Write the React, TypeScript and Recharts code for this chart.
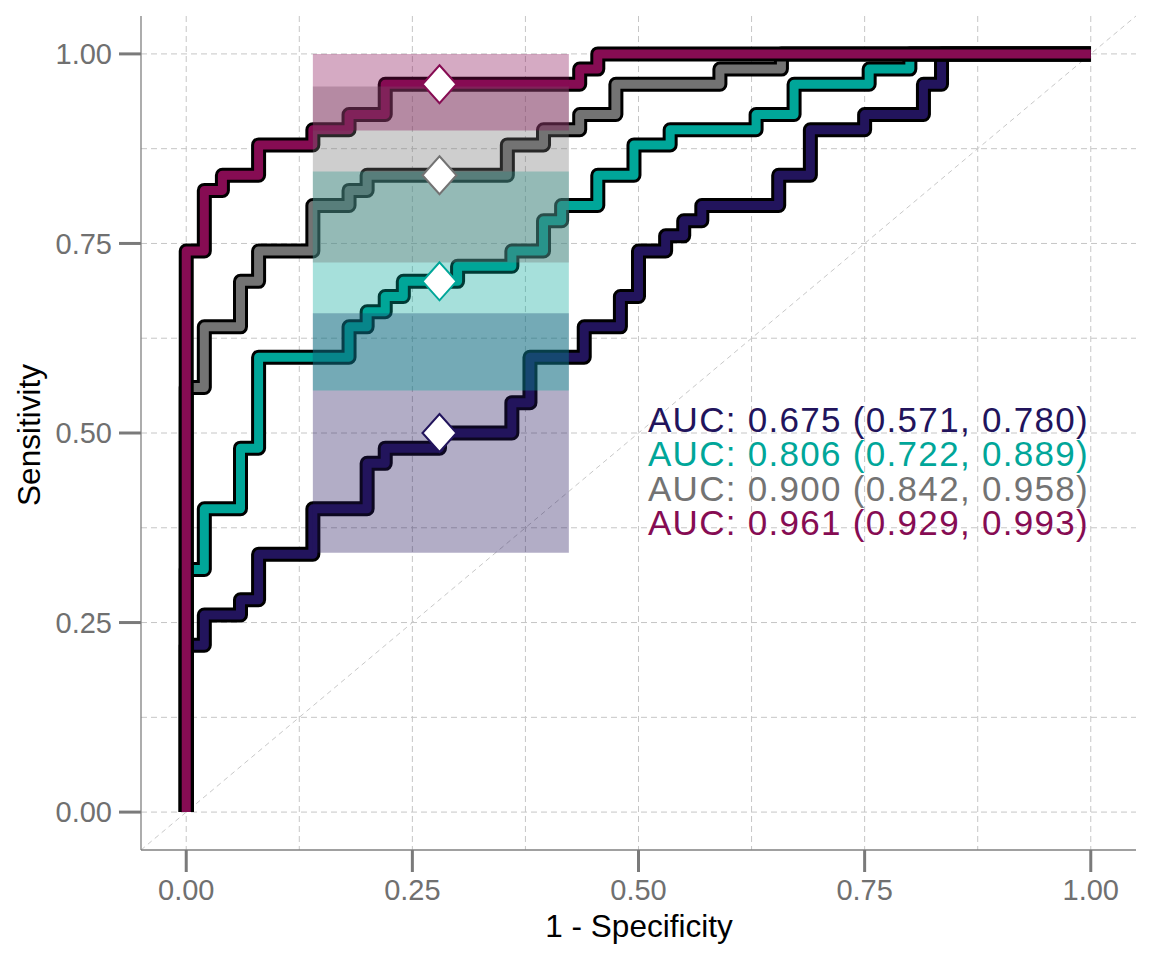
import { ComposedChart, Line, Scatter, XAxis, YAxis, CartesianGrid, ReferenceLine, ReferenceArea } from "recharts";

// ROC step points as [1 - specificity, sensitivity]
const rocNavy: [number, number][] = [
  [0, 0], [0, 0.22], [0.02, 0.22], [0.02, 0.26], [0.06, 0.26], [0.06, 0.28], [0.08, 0.28], [0.08, 0.34],
  [0.14, 0.34], [0.14, 0.4], [0.2, 0.4], [0.2, 0.46], [0.22, 0.46], [0.22, 0.48], [0.28, 0.48], [0.28, 0.5],
  [0.36, 0.5], [0.36, 0.54], [0.38, 0.54], [0.38, 0.6], [0.44, 0.6], [0.44, 0.64], [0.48, 0.64], [0.48, 0.68],
  [0.5, 0.68], [0.5, 0.74], [0.53, 0.74], [0.53, 0.76], [0.55, 0.76], [0.55, 0.78], [0.57, 0.78], [0.57, 0.8],
  [0.655, 0.8], [0.655, 0.84], [0.69, 0.84], [0.69, 0.9], [0.75, 0.9], [0.75, 0.92], [0.815, 0.92],
  [0.815, 0.96], [0.835, 0.96], [0.835, 1], [1, 1],
];
const rocTeal: [number, number][] = [
  [0, 0], [0, 0.32], [0.02, 0.32], [0.02, 0.4], [0.06, 0.4], [0.06, 0.48], [0.08, 0.48], [0.08, 0.6],
  [0.18, 0.6], [0.18, 0.64], [0.2, 0.64], [0.2, 0.66], [0.22, 0.66], [0.22, 0.68], [0.24, 0.68], [0.24, 0.7],
  [0.3, 0.7], [0.3, 0.72], [0.36, 0.72], [0.36, 0.74], [0.395, 0.74], [0.395, 0.78], [0.415, 0.78],
  [0.415, 0.8], [0.455, 0.8], [0.455, 0.84], [0.495, 0.84], [0.495, 0.88], [0.535, 0.88], [0.535, 0.9],
  [0.63, 0.9], [0.63, 0.92], [0.672, 0.92], [0.672, 0.96], [0.755, 0.96], [0.755, 0.98], [0.8, 0.98],
  [0.8, 1], [1, 1],
];
const rocGray: [number, number][] = [
  [0, 0], [0, 0.56], [0.02, 0.56], [0.02, 0.64], [0.06, 0.64], [0.06, 0.7], [0.08, 0.7], [0.08, 0.74],
  [0.14, 0.74], [0.14, 0.8], [0.18, 0.8], [0.18, 0.82], [0.2, 0.82], [0.2, 0.84], [0.355, 0.84], [0.355, 0.88],
  [0.395, 0.88], [0.395, 0.9], [0.435, 0.9], [0.435, 0.92], [0.475, 0.92], [0.475, 0.96], [0.59, 0.96],
  [0.59, 0.98], [0.658, 0.98], [0.658, 1], [1, 1],
];
const rocMaroon: [number, number][] = [
  [0, 0], [0, 0.74], [0.02, 0.74], [0.02, 0.82], [0.04, 0.82], [0.04, 0.84], [0.08, 0.84], [0.08, 0.88],
  [0.14, 0.88], [0.14, 0.9], [0.18, 0.9], [0.18, 0.92], [0.22, 0.92], [0.22, 0.96], [0.435, 0.96],
  [0.435, 0.98], [0.455, 0.98], [0.455, 1], [1, 1],
];

// threshold point and sensitivity CI boxes
const pointFpr = 0.28;
const pointSens = [0.5, 0.7, 0.84, 0.96];
const ciFpr = [0.14, 0.423];
const ciLow = [0.342, 0.556, 0.725, 0.899];
const ciHigh = [0.658, 0.845, 0.957, 1.0];

const aucLabels = [
  "AUC: 0.675 (0.571, 0.780)",
  "AUC: 0.806 (0.722, 0.889)",
  "AUC: 0.900 (0.842, 0.958)",
  "AUC: 0.961 (0.929, 0.993)",
];

const axisTicks = [0, 0.25, 0.5, 0.75, 1];
const gridVals = [0, 0.125, 0.25, 0.375, 0.5, 0.625, 0.75, 0.875, 1];

const curves = [rocNavy, rocTeal, rocGray, rocMaroon];
const colors = ["#22145c", "#00a699", "#737373", "#860c53"];
const labelY = [432, 466, 500.5, 535];

const FONT = "'Liberation Sans', Arial, Helvetica, sans-serif";

const toRows = (pts: [number, number][]) => pts.map(([x, y]) => ({ x, y }));

const diamond = (color: string) => (p: any) => (
  <polygon
    points={`${p.cx},${p.cy - 19} ${p.cx + 17},${p.cy} ${p.cx},${p.cy + 19} ${p.cx - 17},${p.cy}`}
    fill="#fff"
    stroke={color}
    strokeWidth={2}
  />
);

export default function App() {
  const tickStyle = { fill: "#707070", fontSize: 29, fontFamily: FONT };
  return (
    <div style={{ position: "absolute", left: 0, top: 0, width: 1152, height: 960, background: "#fff" }}>
      <ComposedChart width={1152} height={960} margin={{ top: 16, right: 16, bottom: 0, left: 0 }}>
        <CartesianGrid stroke="#c6c6c6" strokeDasharray="6 4" verticalValues={gridVals} horizontalValues={gridVals} />
        <XAxis
          dataKey="x" type="number" domain={[-0.05, 1.05]} ticks={axisTicks} interval={0} allowDataOverflow
          tickFormatter={(v) => Number(v).toFixed(2)} height={110} tickSize={22} tickMargin={7}
          tick={tickStyle} tickLine={{ stroke: "#7a7a7a", strokeWidth: 3 }} axisLine={{ stroke: "#808080", strokeWidth: 1.3 }}
        />
        <YAxis
          dataKey="y" type="number" domain={[-0.05, 1.05]} ticks={axisTicks} interval={0} allowDataOverflow
          tickFormatter={(v) => Number(v).toFixed(2)} width={141} tickSize={22} tickMargin={7}
          tick={tickStyle} tickLine={{ stroke: "#7a7a7a", strokeWidth: 3 }} axisLine={{ stroke: "#808080", strokeWidth: 1.3 }}
        />
        <ReferenceLine
          segment={[{ x: -0.05, y: -0.05 }, { x: 1.05, y: 1.05 }]}
          stroke="#c8c8c8" strokeWidth={1} strokeDasharray="5 4" ifOverflow="visible"
        />
        {curves.flatMap((pts, i) => [
          <Line key={`o${i}`} data={toRows(pts)} dataKey="y" type="linear" stroke="#000" strokeWidth={15}
            strokeLinejoin="round" dot={false} activeDot={false} isAnimationActive={false} />,
          <Line key={`c${i}`} data={toRows(pts)} dataKey="y" type="linear" stroke={colors[i]} strokeWidth={9}
            strokeLinejoin="round" dot={false} activeDot={false} isAnimationActive={false} />,
        ])}
        {colors.map((c, i) => (
          <ReferenceArea key={`a${i}`} x1={ciFpr[0]} x2={ciFpr[1]} y1={ciLow[i]} y2={ciHigh[i]}
            fill={c} fillOpacity={0.35} stroke="none" ifOverflow="visible" zIndex={450} />
        ))}
        {colors.map((c, i) => (
          <Scatter key={`p${i}`} data={[{ x: pointFpr, y: pointSens[i] }]} dataKey="y"
            shape={diamond(c)} isAnimationActive={false} zIndex={600} />
        ))}
      </ComposedChart>
      <svg width={1152} height={960} style={{ position: "absolute", left: 0, top: 0, pointerEvents: "none" }}>
        {aucLabels.map((t, i) => (
          <text key={t} x={1089} y={labelY[i]} textAnchor="end" fill={colors[i]}
            style={{ fontFamily: FONT, fontSize: 35, letterSpacing: 1.3 }}>{t}</text>
        ))}
        <text x={639} y={937} textAnchor="middle" fill="#000" style={{ fontFamily: FONT, fontSize: 31.5 }}>1 - Specificity</text>
        <text transform="rotate(-90)" x={-435} y={40} textAnchor="middle" fill="#000" style={{ fontFamily: FONT, fontSize: 31.5 }}>Sensitivity</text>
      </svg>
    </div>
  );
}
